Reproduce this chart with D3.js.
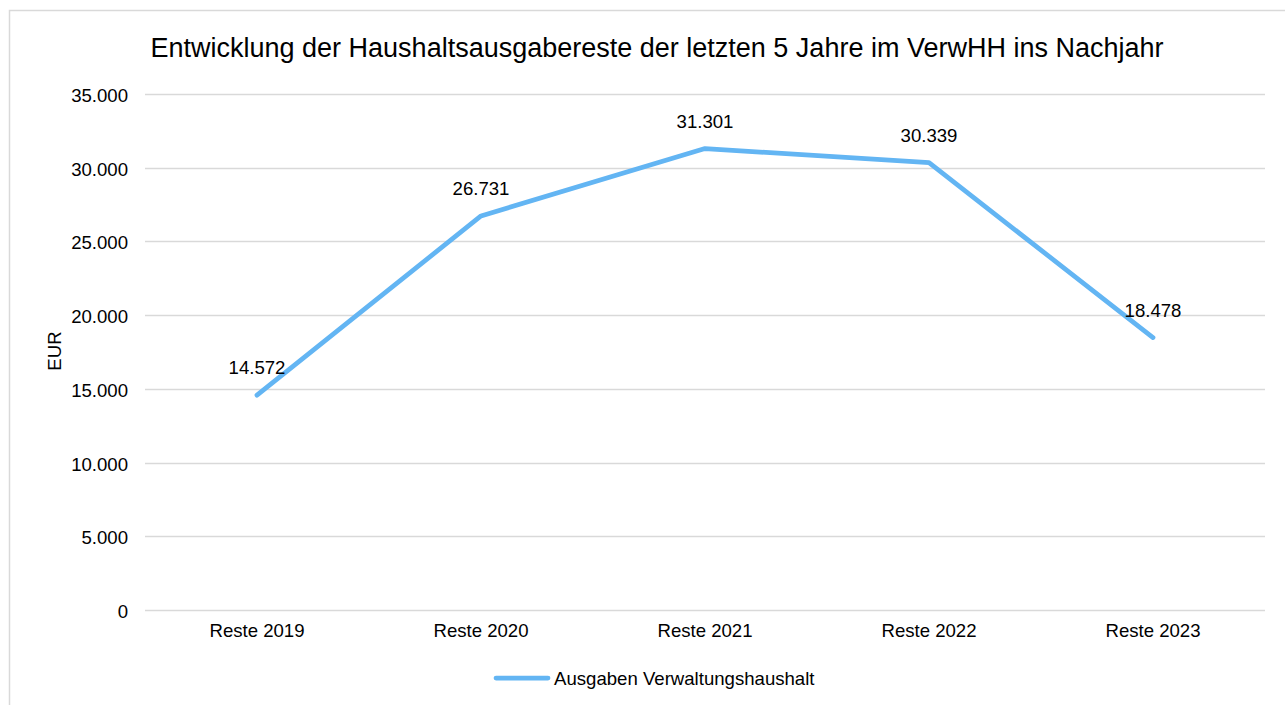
<!DOCTYPE html>
<html><head><meta charset="utf-8">
<script src="https://cdn.jsdelivr.net/npm/d3@7"></script>
<style>body{margin:0;background:#fff;font-family:"Liberation Sans",Arial,sans-serif;}</style>
</head><body><svg id="c" width="1285" height="705"></svg>
<script>
const categories = ["Reste 2019","Reste 2020","Reste 2021","Reste 2022","Reste 2023"];
const values = [14572, 26731, 31301, 30339, 18478];
const labels = ["14.572","26.731","31.301","30.339","18.478"];
const yTicks = [0,5000,10000,15000,20000,25000,30000,35000];
const seriesName = "Ausgaben Verwaltungshaushalt";
const title = "Entwicklung der Haushaltsausgabereste der letzten 5 Jahre im VerwHH ins Nachjahr";
const yTitle = "EUR";

const svg = d3.select("#c");
const color = "#63B5F3";
const fs = 18.6;
svg.append("rect").attr("x",9.5).attr("y",10.5).attr("width",1300).attr("height",720)
  .attr("fill","#fff").attr("stroke","#d9d9d9").attr("stroke-width",1.5);

const x = d3.scaleBand().domain(categories).range([145,1265]);
const y = d3.scaleLinear().domain([0,35000]).range([610,94]);
const fmt = d3.format(",");
const deFmt = v => fmt(v).replace(/,/g,".");

// gridlines
svg.append("g").selectAll("line").data(yTicks).join("line")
  .attr("x1",145).attr("x2",1265).attr("y1",d=>Math.round(y(d))+0.5).attr("y2",d=>Math.round(y(d))+0.5)
  .attr("stroke","#d9d9d9").attr("stroke-width",1.5);

// y axis
const ya = svg.append("g").attr("transform","translate(145,0)")
  .call(d3.axisLeft(y).tickValues(yTicks).tickFormat(deFmt).tickSize(0).tickPadding(17));
ya.select(".domain").remove();
ya.selectAll("text").attr("font-size",fs).attr("font-family","Liberation Sans, Arial, sans-serif").attr("fill","#000").attr("dy","0.4em");

// x axis
const xa = svg.append("g").attr("transform","translate(0,610)")
  .call(d3.axisBottom(x).tickSize(0).tickPadding(14));
xa.select(".domain").remove();
xa.selectAll("text").attr("font-size",fs).attr("font-family","Liberation Sans, Arial, sans-serif").attr("fill","#000");

// line
const line = d3.line().x((d,i)=>x(categories[i])+x.bandwidth()/2).y(d=>y(d));
svg.append("path").datum(values).attr("d",line).attr("fill","none")
  .attr("stroke",color).attr("stroke-width",4.75).attr("stroke-linecap","round").attr("stroke-linejoin","round");

// data labels
svg.append("g").selectAll("text").data(values).join("text")
  .attr("x",(d,i)=>x(categories[i])+x.bandwidth()/2)
  .attr("y",d=>y(d)-21)
  .attr("text-anchor","middle").attr("font-size",fs).attr("fill","#000")
  .text((d,i)=>labels[i]);

// title
svg.append("text").attr("x",657).attr("y",57).attr("text-anchor","middle")
  .attr("font-size",27).attr("fill","#000").text(title);

// y title
svg.append("text").attr("transform","translate(61,351) rotate(-90)").attr("text-anchor","middle")
  .attr("font-size",fs).attr("fill","#000").text(yTitle);

// legend
const lg = svg.append("g");
lg.append("line").attr("x1",496).attr("x2",548).attr("y1",678).attr("y2",678)
  .attr("stroke",color).attr("stroke-width",4.75).attr("stroke-linecap","round");
lg.append("text").attr("x",554).attr("y",684.5).attr("font-size",fs).attr("fill","#000").text(seriesName);
</script></body></html>
